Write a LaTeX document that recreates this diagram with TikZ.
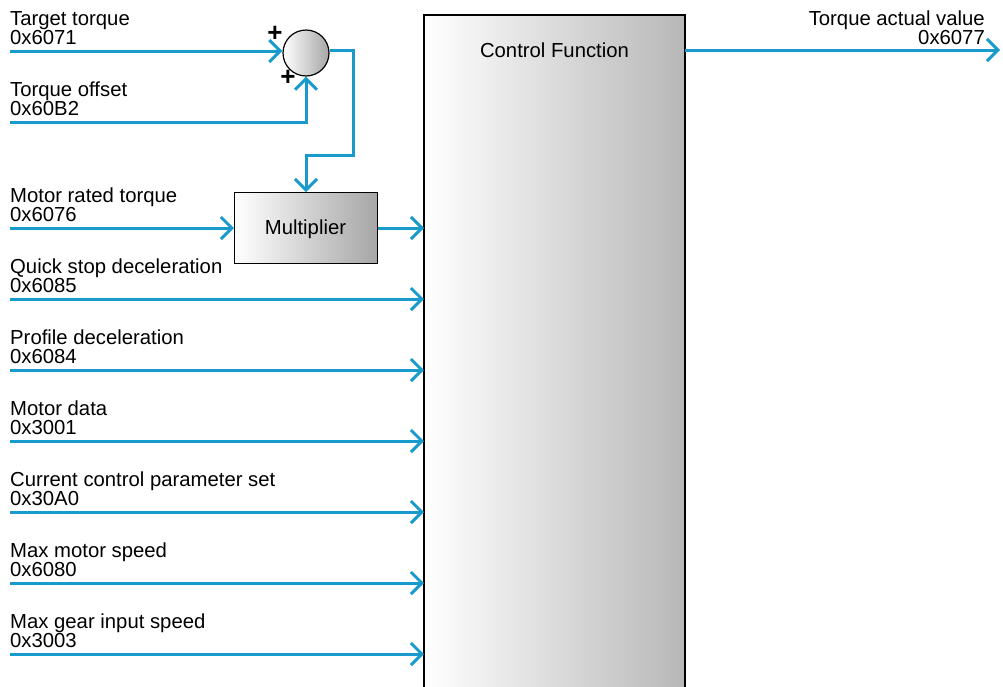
\documentclass[tikz,border=0pt]{standalone}
\usepackage{fontspec}
\setmainfont{Liberation Sans}
\usetikzlibrary{arrows.meta}
\definecolor{sigblue}{RGB}{24,154,204}
\begin{document}
\begin{tikzpicture}[x=1pt,y=-1pt,
  sig/.style={draw=sigblue,line width=3pt,-{Straight Barb[length=11pt,width=22pt,line width=3pt]}},
  lbl/.style={font=\fontsize{20.3}{20}\selectfont,inner sep=0pt,anchor=base west},
  lblr/.style={font=\fontsize{20.3}{20}\selectfont,inner sep=0pt,anchor=base east},
  shadedbox/.style={draw=black,line width=1.2pt,left color=white,right color=black!28},
]
\useasboundingbox (0,0) rectangle (1003,686);
% control function box
\path[shadedbox] (424,15) rectangle (685,700);
\node (cf) [font=\fontsize{20.3}{20}\selectfont,inner sep=0pt,anchor=base] at (554.5,57) {Control Function};
% summing junction
\node (sum) [circle,draw=black,line width=1.2pt,left color=white,right color=black!35,minimum size=46pt,inner sep=0pt] at (306,53) {};
\node (p1) [font=\fontsize{26}{26}\selectfont\bfseries,inner sep=0pt] at (275,34) {+};
\node (p2) [font=\fontsize{26}{26}\selectfont\bfseries,inner sep=0pt] at (288,78) {+};
% multiplier
\node (mul) [draw=black,line width=1.2pt,left color=white,right color=black!35,minimum width=143pt,minimum height=71pt,inner sep=0pt,anchor=north west] at (234,192) {};
\node (multxt) [font=\fontsize{20.3}{20}\selectfont,inner sep=0pt,anchor=base] at (305.5,234) {Multiplier};
% inputs to sum
\coordinate (s1) at (10,51);
\node[lbl] (n1) at (10,25) {Target torque};
\node[lbl] (v1) at (10,44.5) {0x6071};
\draw[sig] (s1) -- (sum.west |- s1);
\coordinate (s2) at (10,122);
\node[lbl] (n2) at (10,96) {Torque offset};
\node[lbl] (v2) at (10,115.5) {0x60B2};
\draw[sig] (s2) -- (306,122) -- (sum.south);
% sum -> multiplier
\coordinate (k1) at (353,50);
\coordinate (k2) at (353,155);
\coordinate (k3) at (306,155);
\draw[sig] (sum.east |- k1) -- (k1) -- (k2) -- (k3) -- (mul.north -| k3);
% motor rated torque
\coordinate (s3) at (10,228);
\node[lbl] (n3) at (10,202) {Motor rated torque};
\node[lbl] (v3) at (10,221.5) {0x6076};
\draw[sig] (s3) -- (mul.west |- s3);
\draw[sig] (mul.east |- s3) -- (424,228);
% other inputs
\foreach \y/\nm/\va/\id in {299/Quick stop deceleration/0x6085/a,
  370/Profile deceleration/0x6084/b,
  441/Motor data/0x3001/c,
  512/Current control parameter set/0x30A0/d,
  583/Max motor speed/0x6080/e,
  654/Max gear input speed/0x3003/f}{
  \coordinate (in\id) at (10,\y);
  \coordinate (to\id) at (424,\y);
  \node[lbl] (nm\id) at (10,\y-26) {\nm};
  \node[lbl] (va\id) at (10,\y-6.5) {\va};
  \draw[sig] (in\id) -- (to\id);
}
% output
\coordinate (o1) at (685,50);
\coordinate (o2) at (1000,50);
\draw[sig] (o1) -- (o2);
\node[lblr] (on) at (985,25) {Torque actual value};
\node[lblr] (ov) at (985,44.5) {0x6077};
\end{tikzpicture}
\end{document}
